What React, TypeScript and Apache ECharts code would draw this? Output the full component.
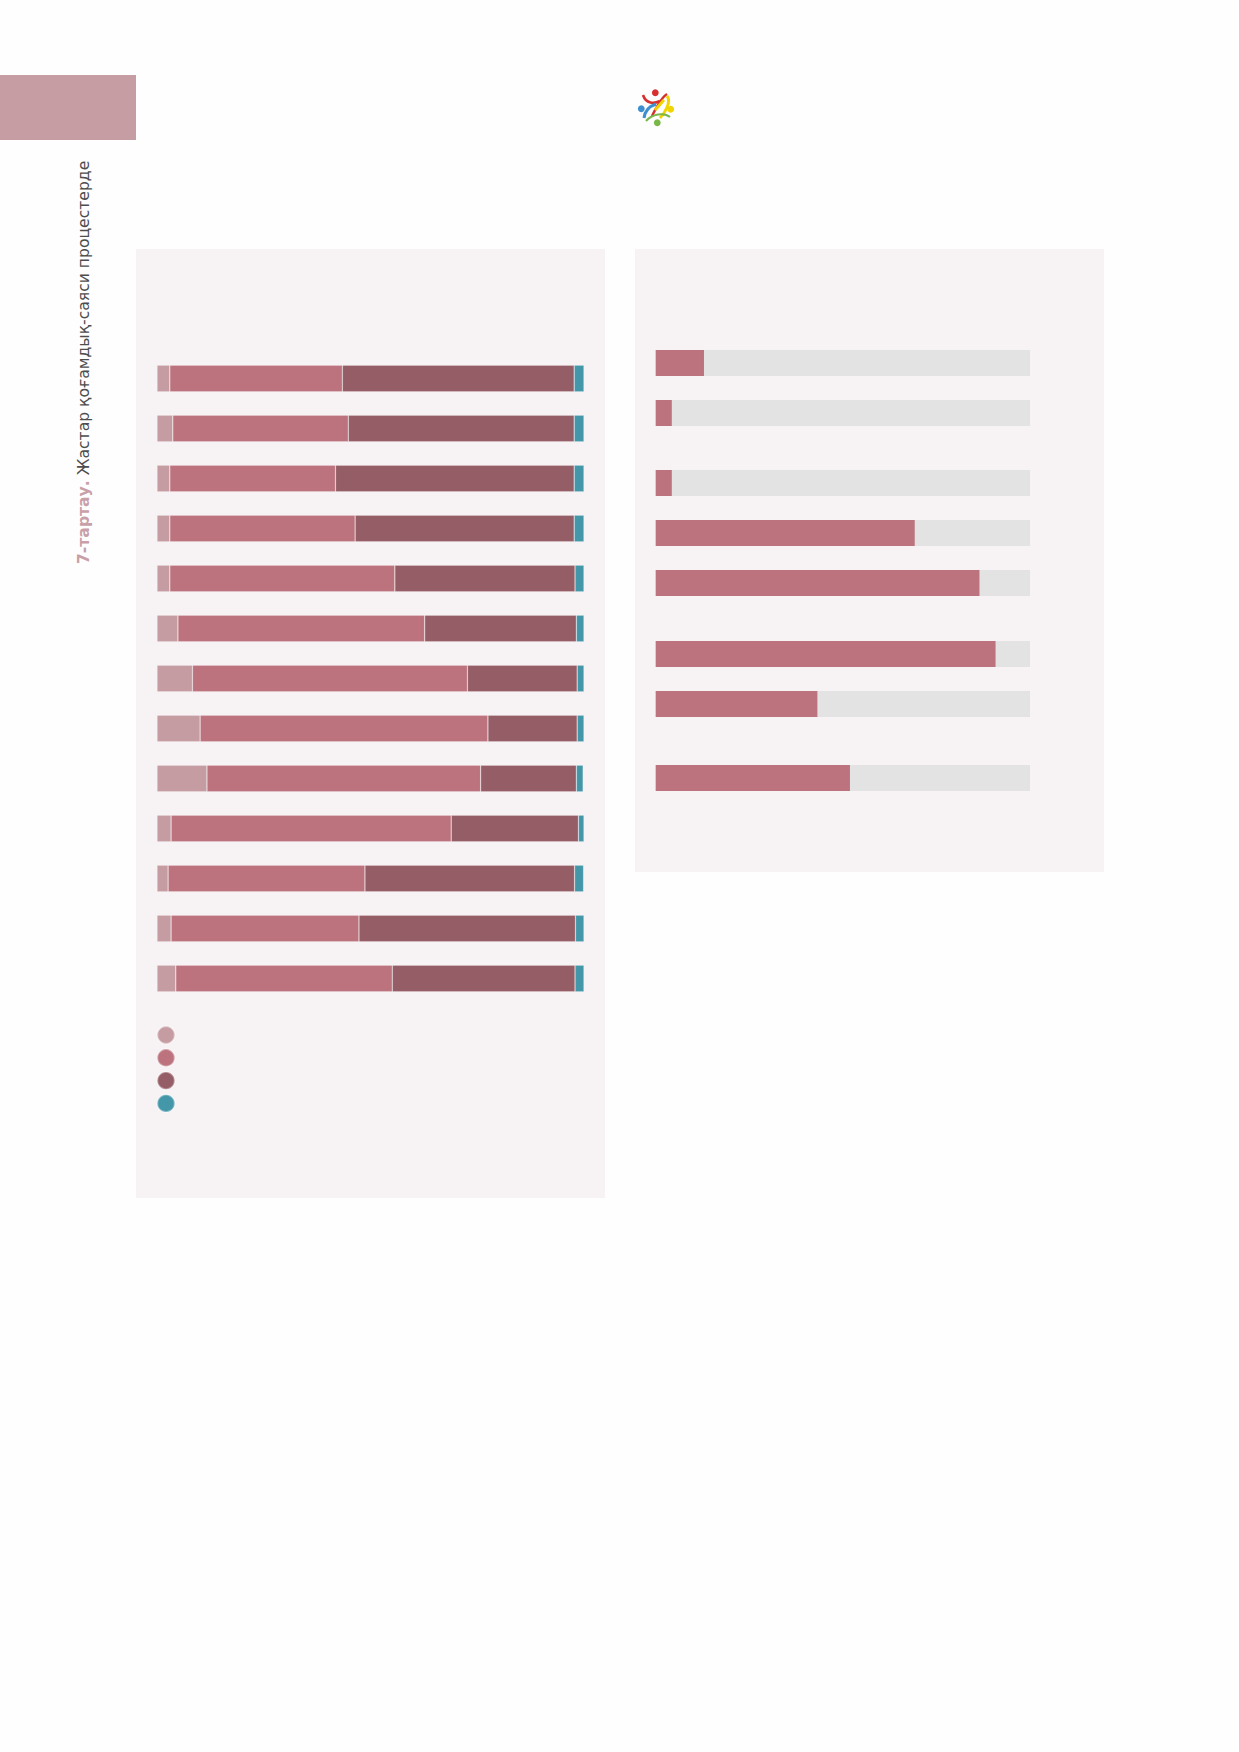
import React, { useEffect, useRef } from "react";
import * as echarts from "echarts";

// ---------- Data ----------
const leftCategories = ["1", "2", "3", "4", "5", "6", "7", "8", "9", "10", "11", "12", "13"];
const shareLow = [3.0, 3.7, 3.0, 3.0, 3.0, 4.9, 8.3, 10.1, 11.7, 3.3, 2.6, 3.3, 4.4];
const shareMid = [40.4, 41.1, 38.8, 43.4, 52.7, 57.8, 64.4, 67.4, 64.1, 65.6, 46.1, 44.0, 50.7];
const shareHigh = [54.3, 52.9, 55.9, 51.3, 42.2, 35.5, 25.7, 20.9, 22.4, 29.8, 49.1, 50.7, 42.8];
const shareOther = [2.3, 2.3, 2.3, 2.3, 2.1, 1.8, 1.6, 1.6, 1.6, 1.3, 2.1, 2.0, 2.1];
const leftSeriesNames = ["s1", "s2", "s3", "s4"];

const rightCatsA = ["a1", "a2"];
const rightValsA = [12.9, 4.3];
const rightCatsB = ["b1", "b2", "b3"];
const rightValsB = [4.3, 69.2, 86.5];
const rightCatsC = ["c1", "c2"];
const rightValsC = [90.8, 43.2];
const rightCatsD = ["d1"];
const rightValsD = [51.9];

const sideTitleBold = "7-тартау.";
const sideTitleRest = " Жастар қоғамдық-саяси процестерде";

// ---------- Styles ----------
const C_LIGHT = "#c59ca2";
const C_MID = "#bc737e";
const C_DARK = "#955e66";
const C_TEAL = "#4497a9";
const C_PANEL = "#f7f3f4";
const C_TRACK = "#e4e3e3";

export default function App() {
  const ref = useRef<HTMLDivElement>(null);

  useEffect(() => {
    if (!ref.current) return;
    const chart = echarts.init(ref.current, undefined, { renderer: "svg" });

    const border = { borderColor: "rgba(255,255,255,0.35)", borderWidth: 0.6 };
    const leftData = [shareLow, shareMid, shareHigh, shareOther];
    const leftColors = [C_LIGHT, C_MID, C_DARK, C_TEAL];

    const rightGroups = [
      { cats: rightCatsA, vals: rightValsA, top: 338 },
      { cats: rightCatsB, vals: rightValsB, top: 458 },
      { cats: rightCatsC, vals: rightValsC, top: 629 },
      { cats: rightCatsD, vals: rightValsD, top: 753 },
    ];

    const grids: any[] = [{ left: 157, top: 353.5, width: 427, height: 650 }];
    const xAxes: any[] = [{ type: "value", min: 0, max: 100, show: false, gridIndex: 0 }];
    const yAxes: any[] = [
      { type: "category", data: leftCategories, inverse: true, show: false, gridIndex: 0 },
    ];
    const series: any[] = leftData.map((d, i) => ({
      name: leftSeriesNames[i],
      type: "bar",
      stack: "left",
      data: d,
      barWidth: 26.7,
      xAxisIndex: 0,
      yAxisIndex: 0,
      itemStyle: { color: leftColors[i], ...border },
      emphasis: { disabled: true },
    }));

    rightGroups.forEach((g, i) => {
      const idx = i + 1;
      grids.push({ left: 655.7, top: g.top, width: 374.3, height: g.cats.length * 50 });
      xAxes.push({ type: "value", min: 0, max: 100, show: false, gridIndex: idx });
      yAxes.push({ type: "category", data: g.cats, inverse: true, show: false, gridIndex: idx });
      series.push({
        type: "bar",
        data: g.vals,
        barWidth: 26,
        xAxisIndex: idx,
        yAxisIndex: idx,
        showBackground: true,
        backgroundStyle: { color: C_TRACK },
        itemStyle: { color: C_MID },
        emphasis: { disabled: true },
      });
    });

    const logo = [
      { type: "bezierCurve", shape: { x1: 643, y1: 95, x2: 660, y2: 101, cpx1: 646, cpy1: 104, cpx2: 654, cpy2: 104 }, style: { stroke: "#d6312e", lineWidth: 2.6, fill: null } },
      { type: "bezierCurve", shape: { x1: 667, y1: 94, x2: 652, y2: 116, cpx1: 662, cpy1: 97, cpx2: 657, cpy2: 106 }, style: { stroke: "#d6312e", lineWidth: 2.6, fill: null } },
      { type: "bezierCurve", shape: { x1: 667, y1: 96, x2: 660, y2: 118, cpx1: 672, cpy1: 102, cpx2: 664, cpy2: 114 }, style: { stroke: "#f2d400", lineWidth: 3, fill: null } },
      { type: "bezierCurve", shape: { x1: 664, y1: 100, x2: 655, y2: 110, cpx1: 661, cpy1: 103, cpx2: 658, cpy2: 107 }, style: { stroke: "#f2d400", lineWidth: 3, fill: null } },
      { type: "bezierCurve", shape: { x1: 644, y1: 118, x2: 656, y2: 104, cpx1: 645, cpy1: 110, cpx2: 650, cpy2: 106 }, style: { stroke: "#3d8fd0", lineWidth: 3, fill: null } },
      { type: "bezierCurve", shape: { x1: 646, y1: 121, x2: 670, y2: 117, cpx1: 652, cpy1: 114, cpx2: 664, cpy2: 112 }, style: { stroke: "#7ab648", lineWidth: 2, fill: null } },
      { type: "circle", shape: { cx: 655.3, cy: 92.7, r: 3.4 }, style: { fill: "#d6312e" } },
      { type: "circle", shape: { cx: 641.3, cy: 108.7, r: 3.4 }, style: { fill: "#3d8fd0" } },
      { type: "circle", shape: { cx: 670.7, cy: 109.3, r: 3.4 }, style: { fill: "#f2d400" } },
      { type: "circle", shape: { cx: 657.3, cy: 122.7, r: 3.4 }, style: { fill: "#7ab648" } },
    ];

    chart.setOption({
      animation: false,
      backgroundColor: "#fefefe",
      graphic: [
        { type: "rect", z: 0, shape: { x: 0, y: 75, width: 136, height: 65 }, style: { fill: "#c59da2" } },
        { type: "rect", z: 0, shape: { x: 136, y: 249, width: 469, height: 949 }, style: { fill: C_PANEL } },
        { type: "rect", z: 0, shape: { x: 635, y: 249, width: 469, height: 623 }, style: { fill: C_PANEL } },
        {
          type: "text",
          x: 84,
          y: 564,
          rotation: Math.PI / 2,
          style: {
            text: `{b|${sideTitleBold}}{r|${sideTitleRest}}`,
            align: "left",
            verticalAlign: "middle",
            rich: {
              b: { fontFamily: "DejaVu Sans", fontWeight: "bold", fontSize: 15.6, fill: "#c8a0a8" },
              r: { fontFamily: "DejaVu Sans", fontSize: 15.6, fill: "#4d4d4d" },
            },
          },
        },
        ...logo,
      ],
      legend: {
        data: leftSeriesNames,
        orient: "vertical",
        left: 156.3,
        top: 1025.3,
        padding: 0,
        icon: "circle",
        itemWidth: 17.4,
        itemHeight: 17.4,
        itemGap: 3.4,
        selectedMode: false,
        formatter: () => "",
        textStyle: { fontSize: 1 },
      },
      grid: grids,
      xAxis: xAxes,
      yAxis: yAxes,
      series,
    });

    return () => chart.dispose();
  }, []);

  return (
    <div
      ref={ref}
      style={{ position: "absolute", left: 0, top: 0, width: 1239, height: 1752 }}
    />
  );
}
